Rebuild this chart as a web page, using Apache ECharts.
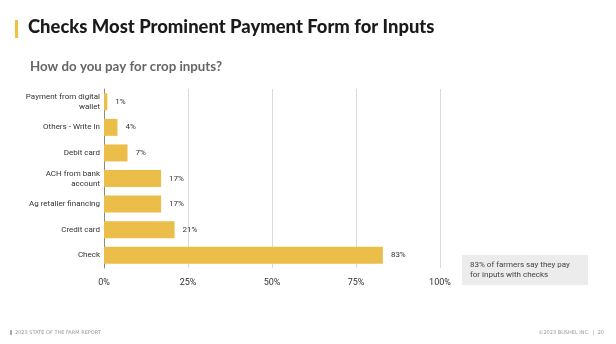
<!DOCTYPE html>
<html><head><meta charset="utf-8">
<script src="https://cdn.jsdelivr.net/npm/echarts@6/dist/echarts.min.js"></script>
<style>html,body{margin:0;padding:0;background:#fff}#c{width:616px;height:344px}</style>
</head><body><div id="c"></div>
<script>
const categories = ['Payment from digital\nwallet','Others - Write In','Debit card','ACH from bank\naccount','Ag retailer financing','Credit card','Check'];
const values = [1,4,7,17,17,21,83];
const xTicks = [0,25,50,75,100];
const title = 'Checks Most Prominent Payment Form for Inputs';
const subtitle = 'How do you pay for crop inputs?';
const note = '83% of farmers say they pay\nfor inputs with checks';

const chart = echarts.init(document.getElementById('c'));
chart.setOption({
  animation:false,
  grid:{left:104,right:176,top:89,bottom:76},
  xAxis:{type:'value',min:xTicks[0],max:xTicks[xTicks.length-1],interval:25,
    axisLabel:{formatter:v=>v+'%',fontSize:9,color:'#333',fontFamily:'Roboto',margin:10},
    axisLine:{show:false},axisTick:{show:false},
    splitLine:{lineStyle:{color:'#d9d9d9',width:1}}},
  yAxis:{type:'category',inverse:true,data:categories,
    axisLabel:{fontSize:8,color:'#333',fontFamily:'Roboto',margin:4,lineHeight:10},
    axisLine:{show:true,lineStyle:{color:'#888',width:1}},axisTick:{show:false}},
  series:[{type:'bar',data:values,barWidth:17,itemStyle:{color:'#EBBE4A'},
    label:{show:true,position:'right',distance:8,formatter:p=>p.value+'%',fontSize:8,color:'#333',fontFamily:'Roboto'}}],
  graphic:[
    {type:'rect',shape:{x:15,y:20,width:3,height:18},style:{fill:'#F0C040'}},
    {type:'text',left:28,top:18,style:{text:title,font:'900 18.4px Lato',fill:'#1a1a1a'}},
    {type:'text',left:30,top:60,style:{text:subtitle,font:'bold 13.3px Lato',fill:'#666'}},
    {type:'rect',shape:{x:462,y:255,width:126,height:30},style:{fill:'#ececec'}},
    {type:'text',left:470,top:260,style:{text:note,font:'8px Roboto',fill:'#444',lineHeight:10}},
    {type:'rect',shape:{x:10,y:330,width:2,height:5},style:{fill:'#aaa'}},
    {type:'text',left:15,top:330,style:{text:'2023 STATE OF THE FARM REPORT',font:'5px "DejaVu Sans"',fill:'#999'}},
    {type:'text',right:12,top:330,style:{text:'©2023 BUSHEL INC.  |  20',font:'5px "DejaVu Sans"',fill:'#999'}}
  ]
});
</script></body></html>
